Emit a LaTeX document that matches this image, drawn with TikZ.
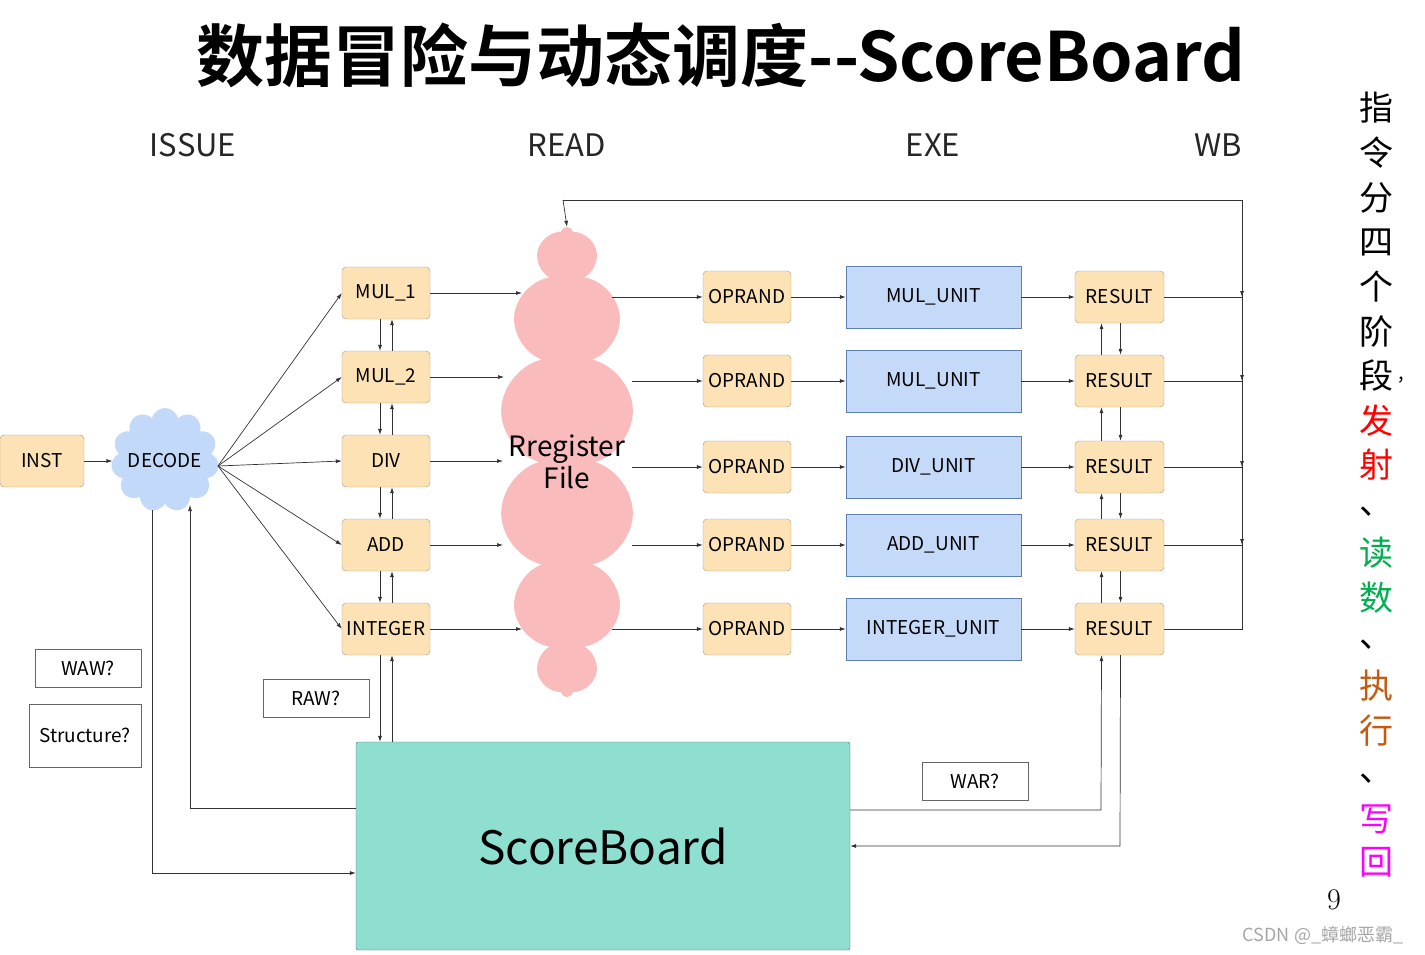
\documentclass[tikz,border=0pt]{standalone}
\usepackage{fontspec}
\setmainfont{Noto Sans CJK SC}
\newfontfamily\cjkb{Noto Sans CJK SC}[BoldFont={Noto Sans CJK SC Bold}]
\usetikzlibrary{shapes.symbols,arrows.meta}
\definecolor{boxo}{HTML}{FDE2B5}
\definecolor{boxob}{HTML}{A89A80}
\definecolor{unitc}{HTML}{C5D9F9}
\definecolor{unitb}{HTML}{5D7DB5}
\definecolor{sbc}{HTML}{8EDFD0}
\definecolor{rfc}{HTML}{F9BBBB}
\definecolor{dcc}{HTML}{C3D9FA}
\definecolor{grn}{HTML}{00B050}
\definecolor{org}{HTML}{C55A11}
\definecolor{mag}{HTML}{FF00FF}
\begin{document}
\begin{tikzpicture}[x=1pt,y=-1pt,
  ob/.style={draw=boxob,fill=boxo,rounded corners=4pt,minimum width=88pt,minimum height=52pt,inner sep=0pt,font=\fontsize{19}{19}\selectfont},
  ub/.style={draw=unitb,fill=unitc,minimum width=175pt,minimum height=62pt,inner sep=0pt,font=\fontsize{19}{19}\selectfont},
  tb/.style={draw=gray!80!black,fill=white,minimum width=106pt,minimum height=38pt,inner sep=0pt,font=\fontsize{19}{19}\selectfont},
  ar/.style={-{Latex[length=6pt,width=4pt]},line width=0.7pt,draw=black!80},
  ln/.style={line width=0.7pt,draw=black!80},
  st/.style={font=\fontsize{31}{31}\selectfont,text=black!85},
  vc/.style={font=\fontsize{34}{34}\selectfont}]
\useasboundingbox (0,0) rectangle (1425,954);
\fill[white] (0,0) rectangle (1425,954);
% title
\node (title) at (721,55) {\cjkb\bfseries\fontsize{68}{68}\selectfont 数据冒险与动态调度--ScoreBoard};
\node[st] (s1) at (193,145) {ISSUE};
\node[st] (s2) at (567,145) {READ};
\node[st] (s3) at (933,145) {EXE};
\node[st] (s4) at (1218,145) {WB};
% clouds
\node[cloud,cloud puffs=14,aspect=0.45,draw=none,fill=rfc,minimum width=135pt,minimum height=470pt,inner sep=0pt] (rf) at (567,462) {};
\node[font=\fontsize{28}{32}\selectfont,align=center] (rft) at (567,462) {Rregister\\File};
\node[cloud,cloud puffs=11,aspect=1.05,draw=none,fill=dcc,minimum width=108pt,minimum height=104pt,inner sep=0pt] (dec) at (165,460) {};
\node[font=\fontsize{19}{19}\selectfont] (dect) at (165,461) {DECODE};
% boxes
\node[ob,minimum width=84pt] (inst) at (42,461) {INST};
\node[ob] (m1) at (386,293) {MUL\_1};
\node[ob] (m2) at (386,377) {MUL\_2};
\node[ob] (dv) at (386,461) {DIV};
\node[ob] (ad) at (386,545) {ADD};
\node[ob] (in) at (386,629) {INTEGER};
\foreach \n/\y in {1/297,2/381,3/467,4/545,5/629}{
  \node[ob] (op\n) at (747,\y) {OPRAND};
  \node[ob,minimum width=89pt] (rs\n) at (1119.5,\y) {RESULT};
}
\node[ub] (u1) at (933.5,297) {MUL\_UNIT};
\node[ub] (u2) at (933.5,381) {MUL\_UNIT};
\node[ub] (u3) at (933.5,467) {DIV\_UNIT};
\node[ub] (u4) at (933.5,545) {ADD\_UNIT};
\node[ub] (u5) at (933.5,629) {INTEGER\_UNIT};
\node[tb] (waw) at (88,668) {WAW?};
\node[tb,minimum width=112pt,minimum height=63pt] (str) at (85,735.5) {Structure?};
\node[tb] (raw) at (316,698.5) {RAW?};
\node[tb] (war) at (975,781.5) {WAR?};
\node[draw=black!60,fill=sbc,rounded corners=2pt,minimum width=494pt,minimum height=208pt,inner sep=0pt,font=\fontsize{46}{46}\selectfont] (sb) at (603,846) {ScoreBoard};
% connectors issue
\draw[ar] (inst.east) -- (dec.west |- inst.east);
\foreach \b in {m1,m2,dv,ad,in}{ \draw[ar] (218,466) -- (\b.west); }
\foreach \a/\b in {m1/m2,m2/dv,dv/ad,ad/in}{
  \draw[ar] ([xshift=-6pt]\a.south) -- ([xshift=-6pt]\b.north);
  \draw[ar] ([xshift=6pt]\b.north) -- ([xshift=6pt]\a.south);
}
\coordinate (rfl1) at (522,293); \coordinate (rfl2) at (504,377); \coordinate (rfl3) at (503,461);
\coordinate (rfl4) at (503,545); \coordinate (rfl5) at (522,629);
\foreach \b/\n in {m1/1,m2/2,dv/3,ad/4,in/5}{ \draw[ar] (\b.east) -- (rfl\n); }
\coordinate (rfr1) at (612,297); \coordinate (rfr2) at (632,381); \coordinate (rfr3) at (632,467);
\coordinate (rfr4) at (632,545); \coordinate (rfr5) at (612,629);
\foreach \n in {1,...,5}{
  \draw[ar] (rfr\n) -- (op\n.west);
  \draw[ar] (op\n.east) -- (u\n.west);
  \draw[ar] (u\n.east) -- (rs\n.west);
}
\foreach \a/\b in {1/2,2/3,3/4,4/5}{
  \draw[ar] ([xshift=-18pt]rs\b.north) -- ([xshift=-18pt]rs\a.south);
  \draw[ar] ([xshift=1pt]rs\a.south) -- ([xshift=1pt]rs\b.north);
}
% WB bus
\coordinate (bus) at (1242,200);
\draw[ln] (rs5.east) -- (rs5.east -| bus) -- (bus) -- (563,200);
\draw[ar] (563,200) -- (rf.north);
\foreach \n in {1,...,4}{
  \draw[ln] (rs\n.east) -- (rs\n.east -| bus);
  \draw[ar] ([yshift=12pt]rs\n.east -| bus) -- (rs\n.east -| bus);
}
% scoreboard
\draw[ar] ([xshift=-6pt]in.south) -- ([xshift=-6pt]in.south |- sb.north);
\draw[ar] ([xshift=6pt]in.south |- sb.north) -- ([xshift=6pt]in.south);
\draw[ar] (152,510) -- (152,873) -- (sb.west |- 0,873);
\draw[ar] (sb.west |- 0,808) -- (190,808) -- (190,505);
\draw[ar] (sb.east |- 0,810) -- (1101,810) -- ([xshift=-18pt]rs5.south);
\draw[ar] ([xshift=1pt]rs5.south) -- (1120,846) -- (sb.east |- 0,846);
% right side text
\node[vc] (c1) at (1376,108) {指};
\node[vc] (c2) at (1376,153) {令};
\node[vc] (c3) at (1376,198) {分};
\node[vc] (c4) at (1376,242) {四};
\node[vc] (c5) at (1376,287) {个};
\node[vc] (c6) at (1376,332) {阶};
\node[vc] (c7) at (1376,376) {段};
\node[font=\fontsize{20}{20}\selectfont] (c7b) at (1401,380) {,};
\node[vc,text=red] (c8) at (1376,421) {发};
\node[vc,text=red] (c9) at (1376,465) {射};
\node[vc] (c10) at (1376,512) {、};
\node[vc,text=grn] (c11) at (1376,553) {读};
\node[vc,text=grn] (c12) at (1376,598) {数};
\node[vc] (c13) at (1376,645) {、};
\node[vc,text=org] (c14) at (1376,686) {执};
\node[vc,text=org] (c15) at (1376,731) {行};
\node[vc] (c16) at (1376,779) {、};
\node[vc,text=mag] (c17) at (1376,819) {写};
\node[vc,text=mag] (c18) at (1376,862) {回};
\node[font=\fontfamily{lmr}\fontsize{30}{30}\selectfont] (pg) at (1334,900) {\addfontfeature{}9};
\node[text=gray!70,font=\fontsize{18}{18}\selectfont] (wm) at (1323,935) {CSDN @\_蟑螂恶霸\_};
\end{tikzpicture}
\end{document}
